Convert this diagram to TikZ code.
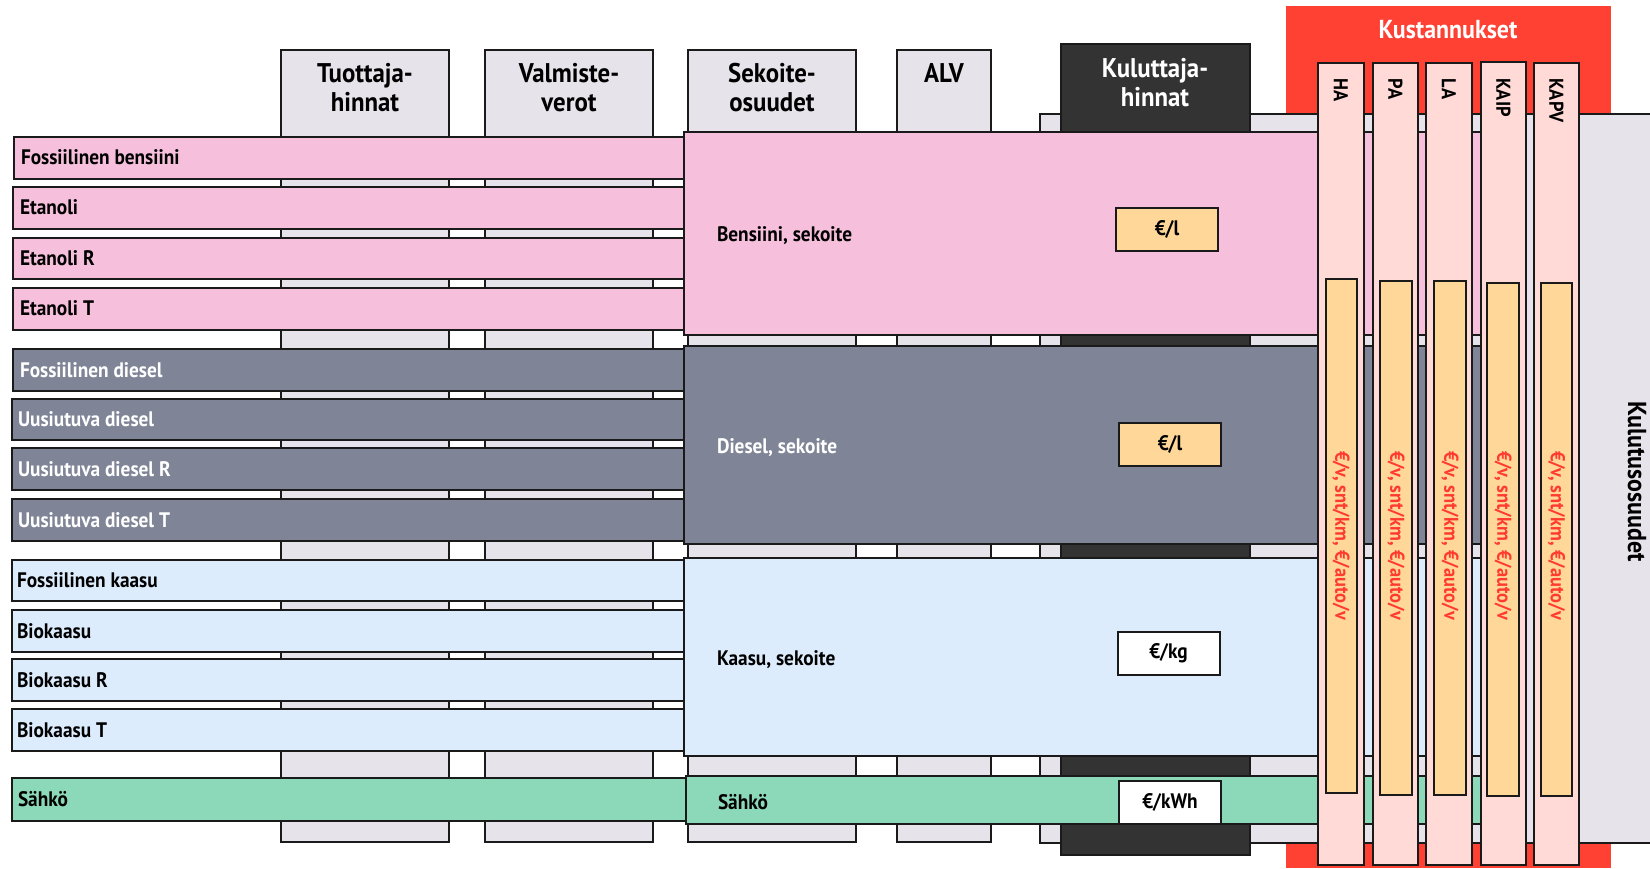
\documentclass[tikz,border=0pt]{standalone}
\usepackage{fontspec}
\setmainfont{PT Sans}[FakeStretch=0.92]
\definecolor{colgray}{HTML}{E6E3EB}
\definecolor{pinkc}{HTML}{F6C0DD}
\definecolor{dieselc}{HTML}{7F8597}
\definecolor{gasc}{HTML}{DCECFD}
\definecolor{greenc}{HTML}{8CD9BA}
\definecolor{darkc}{HTML}{333333}
\definecolor{redc}{HTML}{FF4133}
\definecolor{palepink}{HTML}{FFDAD6}
\definecolor{orangec}{HTML}{FFD798}
\definecolor{redtext}{HTML}{FF3A2E}
\definecolor{edge}{HTML}{1A1A1A}
\begin{document}
\begin{tikzpicture}[x=1pt,y=-1pt,
  every path/.style={line width=2pt, draw=edge},
  colbox/.style={fill=colgray, draw=edge},
  bensbar/.style={fill=pinkc, draw=edge},
  dieselbar/.style={fill=dieselc, draw=edge},
  gasbar/.style={fill=gasc, draw=edge},
  elbar/.style={fill=greenc, draw=edge},
  costcol/.style={fill=palepink, draw=edge},
  costbar/.style={fill=orangec, draw=edge},
  lbl/.style={font=\fontsize{21}{24}\selectfont\bfseries, inner sep=0pt, anchor=base west, draw=none},
  hdr/.style={font=\fontsize{27}{29}\selectfont\bfseries, inner sep=0pt, align=center, anchor=north, draw=none},
  pricebox/.style={draw=edge, line width=2pt, minimum width=102pt, minimum height=43pt, inner sep=0pt, font=\fontsize{21}{24}\selectfont\bfseries},
  costlbl/.style={font=\fontsize{20}{24}\selectfont\bfseries, inner sep=0pt, rotate=-90, anchor=west, draw=none},
  unitlbl/.style={font=\fontsize{20}{24}\selectfont\bfseries, text=redtext, inner sep=0pt, rotate=-90, anchor=west, draw=none}
]
\useasboundingbox[draw=none] (0,0) rectangle (1650,869);
% cost frame and background
\path[fill=redc, draw=none] (1286,6) rectangle (1611,868);
\path[colbox] (1040,114) rectangle (1662,843);
% columns
\path[colbox] (281,50) rectangle (449,842);
\path[colbox] (485,50) rectangle (653,842);
\path[colbox] (688,50) rectangle (856,842);
\path[colbox] (897,50) rectangle (991,842);
\path[fill=darkc, draw=edge] (1061,44) rectangle (1250,855);
% input bars
\path[bensbar] (14,137) rectangle (684,179);
\path[bensbar] (13,187) rectangle (684,229);
\path[bensbar] (13,238) rectangle (684,279);
\path[bensbar] (13,288) rectangle (684,330);
\path[dieselbar] (13,349) rectangle (684,391);
\path[dieselbar] (12,399) rectangle (684,440);
\path[dieselbar] (12,448) rectangle (684,490);
\path[dieselbar] (12,499) rectangle (684,541);
\path[gasbar] (12,560) rectangle (684,601);
\path[gasbar] (12,610) rectangle (684,652);
\path[gasbar] (12,659) rectangle (684,701);
\path[gasbar] (12,709) rectangle (684,751);
\path[elbar] (12,778) rectangle (686,821);
% mix boxes
\path[bensbar] (684,132) rectangle (1500,335);
\path[dieselbar] (684,346) rectangle (1500,544);
\path[gasbar] (684,558) rectangle (1500,756);
\path[elbar] (686,776) rectangle (1500,824);
% price boxes
\node[pricebox, fill=orangec] (pb) at (1167,229.5) {€/l};
\node[pricebox, fill=orangec] (pd) at (1170,444) {€/l};
\node[pricebox, fill=white] (pg) at (1168.5,653.5) {€/kg};
\node[pricebox, fill=white] (pe) at (1170,802.5) {€/kWh};
% cost columns
\path[costcol] (1318,63) rectangle (1364,865);
\path[costcol] (1373,63) rectangle (1418,865);
\path[costcol] (1426,63) rectangle (1472,865);
\path[costcol] (1481,62) rectangle (1526,865);
\path[costcol] (1534,63) rectangle (1579,865);
\path[costbar] (1326,279) rectangle (1357,793);
\path[costbar] (1380,281) rectangle (1412,795);
\path[costbar] (1434,281) rectangle (1466,795);
\path[costbar] (1487,283) rectangle (1519,796);
\path[costbar] (1541,283) rectangle (1572,796);
% headers
\node[hdr] (h1) at (365,62) {Tuottaja-\\hinnat};
\node[hdr] (h2) at (569,62) {Valmiste-\\verot};
\node[hdr] (h3) at (772,62) {Sekoite-\\osuudet};
\node[hdr] (h4) at (944,62) {ALV};
\node[hdr, text=white] (h5) at (1155,57) {Kuluttaja-\\hinnat};
\node[hdr, text=white, anchor=center, font=\fontsize{26}{29}\selectfont\bfseries] (h6) at (1448,30) {Kustannukset};
% bar labels
\node[lbl] (b1) at (20,165) {Fossiilinen bensiini};
\node[lbl] (b2) at (19,215) {Etanoli};
\node[lbl] (b3) at (19,265.5) {Etanoli R};
\node[lbl] (b4) at (19,316) {Etanoli T};
\node[lbl, text=white] (d1) at (19,377) {Fossiilinen diesel};
\node[lbl, text=white] (d2) at (17,426.5) {Uusiutuva diesel};
\node[lbl, text=white] (d3) at (17,476) {Uusiutuva diesel R};
\node[lbl, text=white] (d4) at (17,527) {Uusiutuva diesel T};
\node[lbl] (g1) at (16,587.5) {Fossiilinen kaasu};
\node[lbl] (g2) at (16,638) {Biokaasu};
\node[lbl] (g3) at (16,687) {Biokaasu R};
\node[lbl] (g4) at (16,737) {Biokaasu T};
\node[lbl] (e1) at (17,806.5) {Sähkö};
% mix labels
\node[lbl] (m1) at (716,242) {Bensiini, sekoite};
\node[lbl, text=white] (m2) at (716,453) {Diesel, sekoite};
\node[lbl] (m3) at (716,665) {Kaasu, sekoite};
\node[lbl] (m4) at (717,809) {Sähkö};
% cost labels
\node[costlbl] (c1) at (1341,78) {HA};
\node[costlbl] (c2) at (1395.5,78) {PA};
\node[costlbl] (c3) at (1449,78) {LA};
\node[costlbl] (c4) at (1503.5,78) {KAIP};
\node[costlbl] (c5) at (1556.5,78) {KAPV};
\node[unitlbl] (u1) at (1341,450) {€/v, snt/km, €/auto/v};
\node[unitlbl] (u2) at (1396,450) {€/v, snt/km, €/auto/v};
\node[unitlbl] (u3) at (1450,450) {€/v, snt/km, €/auto/v};
\node[unitlbl] (u4) at (1503,450) {€/v, snt/km, €/auto/v};
\node[unitlbl] (u5) at (1556.5,450) {€/v, snt/km, €/auto/v};
\node[costlbl, font=\fontsize{26}{29}\selectfont\bfseries] (k) at (1637,400) {Kulutusosuudet};
\end{tikzpicture}
\end{document}
